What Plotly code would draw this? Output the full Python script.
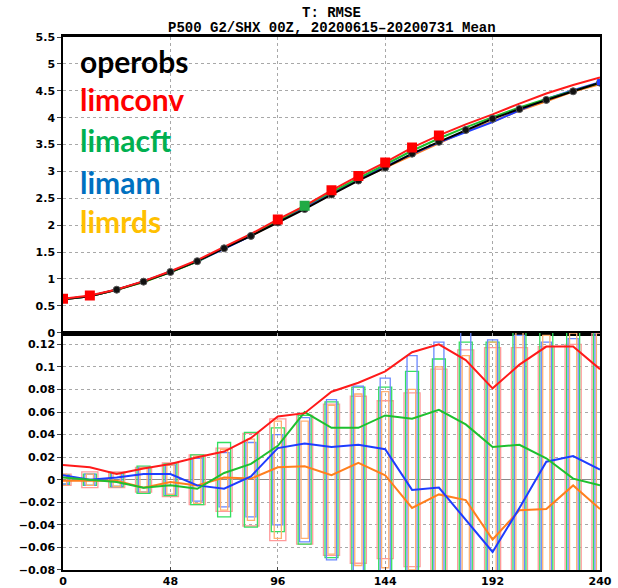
import plotly.graph_objects as go
from plotly.subplots import make_subplots

hours = [0, 12, 24, 36, 48, 60, 72, 84, 96, 108, 120, 132, 144, 156, 168, 180, 192, 204, 216, 228, 240]

# Top panel: RMSE
operobs = [0.62, 0.68, 0.80, 0.95, 1.13, 1.33, 1.57, 1.80, 2.05, 2.30, 2.57, 2.83, 3.07, 3.33, 3.55, 3.77, 3.98, 4.16, 4.33, 4.49, 4.65]
limconv = [0.633, 0.691, 0.805, 0.96, 1.144, 1.35, 1.595, 1.837, 2.106, 2.359, 2.648, 2.916, 3.166, 3.443, 3.67, 3.876, 4.061, 4.262, 4.448, 4.608, 4.748]
limacft = [0.622, 0.68, 0.798, 0.943, 1.125, 1.322, 1.576, 1.814, 2.08, 2.36, 2.616, 2.876, 3.127, 3.384, 3.612, 3.819, 4.009, 4.191, 4.349, 4.491, 4.645]
limam = [0.624, 0.68, 0.802, 0.955, 1.135, 1.325, 1.562, 1.803, 2.078, 2.332, 2.599, 2.861, 3.097, 3.321, 3.543, 3.734, 3.916, 4.135, 4.346, 4.511, 4.659]
limrds = [0.619, 0.679, 0.799, 0.943, 1.128, 1.325, 1.572, 1.801, 2.061, 2.312, 2.574, 2.845, 3.074, 3.305, 3.537, 3.752, 3.927, 4.133, 4.304, 4.485, 4.624]

# significant-difference markers (hours)
limconv_sig = [0, 12, 96, 120, 132, 144, 156, 168]
limacft_sig = [108]
limam_sig = [240]

# Bottom panel: differences from operobs
d_limconv = [0.013, 0.011, 0.005, 0.010, 0.014, 0.020, 0.025, 0.037, 0.056, 0.059, 0.078, 0.086, 0.096, 0.113, 0.120, 0.106, 0.081, 0.102, 0.118, 0.118, 0.098]
d_limacft = [0.002, 0.000, -0.002, -0.007, -0.005, -0.008, 0.006, 0.014, 0.030, 0.060, 0.046, 0.046, 0.057, 0.054, 0.062, 0.049, 0.029, 0.031, 0.019, 0.001, -0.005]
d_limam = [0.004, 0.000, 0.002, 0.005, 0.005, -0.005, -0.008, 0.003, 0.028, 0.032, 0.029, 0.031, 0.027, -0.009, -0.007, -0.036, -0.064, -0.025, 0.016, 0.021, 0.009]
d_limrds = [-0.001, -0.001, -0.001, -0.007, -0.002, -0.005, 0.002, 0.001, 0.011, 0.012, 0.004, 0.015, 0.004, -0.025, -0.013, -0.018, -0.053, -0.027, -0.026, -0.005, -0.026]

# significance thresholds (half-height of boxes)
s_limconv = [0.005, 0.007, 0.007, 0.011, 0.015, 0.022, 0.028, 0.041, 0.054, 0.057, 0.067, 0.074, 0.070, 0.077, 0.098, 0.115, 0.117, 0.117, 0.118, 0.120, 0.130]
s_limacft = [0.004, 0.005, 0.006, 0.012, 0.014, 0.022, 0.033, 0.042, 0.046, 0.057, 0.069, 0.082, 0.082, 0.096, 0.107, 0.122, 0.122, 0.140, 0.135, 0.135, 0.140]
s_limam = [0.004, 0.005, 0.006, 0.011, 0.013, 0.019, 0.024, 0.033, 0.040, 0.055, 0.071, 0.083, 0.090, 0.110, 0.122, 0.140, 0.124, 0.128, 0.122, 0.125, 0.140]
s_limrds = [0.005, 0.005, 0.006, 0.011, 0.013, 0.021, 0.027, 0.036, 0.052, 0.052, 0.066, 0.076, 0.078, 0.080, 0.100, 0.110, 0.122, 0.135, 0.128, 0.130, 0.140]

x_ticks = [0, 48, 96, 144, 192, 240]
top_ticks = [0, 0.5, 1, 1.5, 2, 2.5, 3, 3.5, 4, 4.5, 5, 5.5]
top_ticklabels = ["0", "0.5", "1", "1.5", "2", "2.5", "3", "3.5", "4", "4.5", "5", "5.5"]
bot_ticks = [-0.08, -0.06, -0.04, -0.02, 0, 0.02, 0.04, 0.06, 0.08, 0.1, 0.12]
bot_ticklabels = ["\u22120.08", "\u22120.06", "\u22120.04", "\u22120.02", "0", "0.02", "0.04", "0.06", "0.08", "0.1", "0.12"]

names = ["operobs", "limconv", "limacft", "limam", "limrds"]
label_colors = ["#000000", "#ff0000", "#00b050", "#0070c0", "#ffc000"]
label_y = [5.05, 4.35, 3.58, 2.80, 2.07]

C_RED, C_GRN, C_BLU, C_ORG = "#ff1a1a", "#1fbf2f", "#1f3cff", "#ff7f1e"

fig = make_subplots(rows=2, cols=1, shared_xaxes=True, vertical_spacing=0,
                    row_heights=[0.5548, 0.4452])

# ---- top panel ----
for ser, col in [(limrds, C_ORG), (limam, C_BLU), (limacft, C_GRN), (operobs, "#000000"), (limconv, C_RED)]:
    fig.add_trace(go.Scatter(x=hours, y=ser, mode="lines", line=dict(color=col, width=2),
                             showlegend=False, hoverinfo="skip"), row=1, col=1)
fig.add_trace(go.Scatter(x=hours[2:], y=operobs[2:], mode="markers",
                         marker=dict(symbol="circle", size=7, color="#111111",
                                     line=dict(color="#555555", width=1)),
                         showlegend=False), row=1, col=1)

def pick(ser, hs):
    return [ser[hours.index(h)] for h in hs]

fig.add_trace(go.Scatter(x=limconv_sig, y=pick(limconv, limconv_sig), mode="markers",
                         marker=dict(symbol="square", size=10, color="#ff0000"),
                         showlegend=False), row=1, col=1)
fig.add_trace(go.Scatter(x=limacft_sig, y=pick(limacft, limacft_sig), mode="markers",
                         marker=dict(symbol="square", size=10, color="#22aa44"),
                         showlegend=False), row=1, col=1)
fig.add_trace(go.Scatter(x=limam_sig, y=pick(limam, limam_sig), mode="markers",
                         marker=dict(symbol="square", size=6, color="#1f3cff"),
                         showlegend=False), row=1, col=1)

# ---- bottom panel: significance boxes ----
for sig, col, w in [(s_limconv, "#ff9a9a", 7.2), (s_limacft, "#33e060", 5.8),
                    (s_limam, "#6a88ff", 4.5), (s_limrds, "#ffb070", 3.2)]:
    fig.add_trace(go.Bar(x=hours, y=[2 * s for s in sig], base=[-s for s in sig], width=w,
                         marker=dict(color="rgba(0,0,0,0)", line=dict(color=col, width=1.3)),
                         showlegend=False, hoverinfo="skip"), row=2, col=1)

for ser, col in [(d_limrds, C_ORG), (d_limam, C_BLU), (d_limacft, C_GRN), (d_limconv, C_RED)]:
    fig.add_trace(go.Scatter(x=hours, y=ser, mode="lines", line=dict(color=col, width=2),
                             showlegend=False, hoverinfo="skip"), row=2, col=1)

# ---- labels ----
for n, c, yv in zip(names, label_colors, label_y):
    fig.add_annotation(x=0.028, xref="paper", y=yv, yref="y", text=n, showarrow=False,
                       xanchor="left", yanchor="middle",
                       font=dict(family="Lato", size=30, color=c, weight="bold"))

title_font = dict(family="Liberation Mono", size=14, color="#000000", weight="bold")
fig.add_annotation(x=0.5, xref="paper", y=1.0455, yref="paper", text="T: RMSE", showarrow=False,
                   xanchor="center", yanchor="middle", font=title_font)
fig.add_annotation(x=0.5, xref="paper", y=1.0160, yref="paper",
                   text="P500 G2/SHX 00Z, 20200615\u201320200731 Mean", showarrow=False,
                   xanchor="center", yanchor="middle", font=title_font)

tick_font = dict(family="DejaVu Sans", size=11, color="#000000", weight="bold")
grid = dict(showgrid=True, gridcolor="#a8a8a8", griddash="dot", gridwidth=1)

fig.update_xaxes(range=[0, 240], tickvals=x_ticks, showline=True, mirror=True,
                 linecolor="black", linewidth=1.5, ticks="inside", ticklen=3,
                 tickfont=tick_font, zeroline=False, automargin=False, **grid)
fig.update_xaxes(showticklabels=False, linewidth=3, row=1, col=1)
fig.update_yaxes(range=[0, 5.5], tickvals=top_ticks, ticktext=top_ticklabels, row=1, col=1)
fig.update_yaxes(range=[-0.08, 0.1303], tickvals=bot_ticks, ticktext=bot_ticklabels,
                 zeroline=True, zerolinecolor="#8a8a8a", zerolinewidth=1, row=2, col=1)
fig.update_yaxes(showline=True, mirror=True, linecolor="black", linewidth=1.5,
                 ticks="outside", ticklen=4, tickfont=tick_font, automargin=False, **grid)
fig.update_yaxes(zeroline=False, row=1, col=1)

fig.update_layout(width=618, height=588, margin=dict(l=63, r=18, t=37, b=18, autoexpand=False),
                  paper_bgcolor="white", plot_bgcolor="white", barmode="overlay",
                  showlegend=False)

fig.write_html("out.html")
